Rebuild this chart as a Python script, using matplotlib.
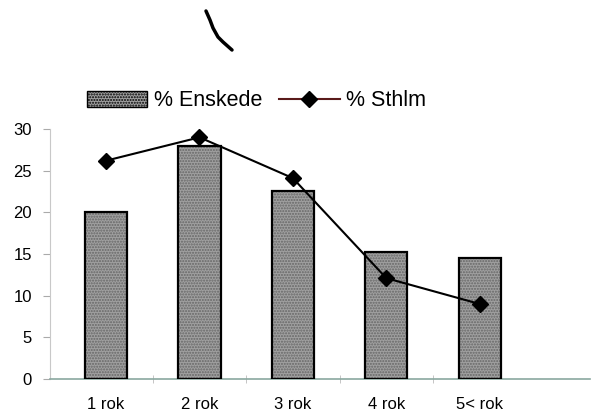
import matplotlib.pyplot as plt
from matplotlib.lines import Line2D
from matplotlib.patches import Patch
import numpy as np

categories = ['1 rok', '2 rok', '3 rok', '4 rok', '5< rok']
enskede = [20, 28, 22.6, 15.2, 14.5]
sthlm = [26.2, 29, 24.1, 12.1, 9]
y_ticks = [0, 5, 10, 15, 20, 25, 30]

plt.rcParams['font.family'] = ['Liberation Sans', 'DejaVu Sans']

fig = plt.figure(figsize=(5.98, 4.12), dpi=100)
ax = fig.add_axes([50 / 598, 33 / 412, 540 / 598, 250 / 412])

x = np.arange(len(categories))
# textured grey fill, then a black outline on top
ax.bar(x, enskede, width=0.45, color='#a0a0a0', hatch='......',
       edgecolor='#666666', linewidth=0, zorder=2)
ax.bar(x, enskede, width=0.45, fill=False, edgecolor='black',
       linewidth=1.6, zorder=3)
ax.plot(x, sthlm, color='black', linewidth=1.5, marker='D',
        markersize=8, markerfacecolor='black', zorder=4)

ax.set_xlim(-0.6, 5.18)
ax.set_ylim(0, 30)
ax.set_yticks(y_ticks)
ax.set_xticks(x)
ax.set_xticklabels(categories)
ax.set_xticks(x[:-1] + 0.5, minor=True)
ax.tick_params(axis='x', which='major', length=0, pad=13, labelsize=12)
ax.tick_params(axis='x', which='minor', length=6, direction='inout',
               color='#bbbbbb')
ax.tick_params(axis='y', length=5, color='#aaaaaa', labelsize=12, pad=8)

for s in ['top', 'right']:
    ax.spines[s].set_visible(False)
ax.spines['left'].set_color('#c8c8c8')
ax.spines['bottom'].set_color('#8aa8a0')
ax.spines['bottom'].set_linewidth(1.2)

handles = [Patch(facecolor='#a0a0a0', hatch='......', edgecolor='black'),
           Line2D([0], [0], color='#5a1a1a', marker='D', markersize=8,
                  markerfacecolor='black', markeredgecolor='black', linewidth=1.5)]
fig.legend(handles, ['% Enskede', '% Sthlm'], loc='center left',
           bbox_to_anchor=(87 / 598, 1 - 101 / 412), ncol=2, frameon=False,
           fontsize=15.5, handlelength=2.8, handletextpad=0.3,
           columnspacing=0.8, borderpad=0, borderaxespad=0)

# pen stroke near the top of the scanned page
sx = [206, 210, 213, 218, 223, 232]
sy = [11, 20, 28, 37, 42, 50]
fig.add_artist(Line2D([v / 598 for v in sx], [1 - v / 412 for v in sy],
                      color='black', linewidth=2.5, solid_capstyle='round',
                      solid_joinstyle='round'))

fig.savefig('out.png', dpi=100)
